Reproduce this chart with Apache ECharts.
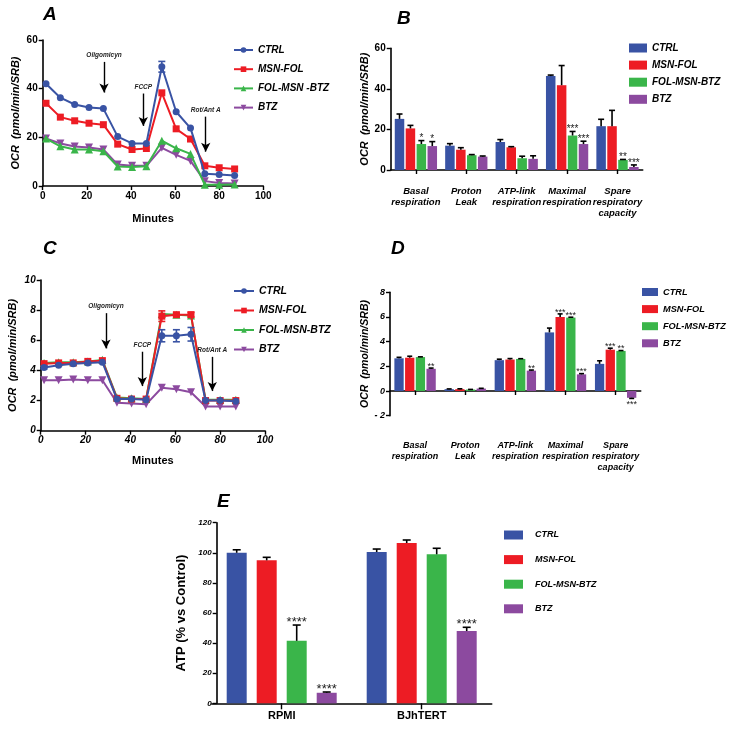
<!DOCTYPE html>
<html>
<head>
<meta charset="utf-8">
<script src="https://cdn.jsdelivr.net/npm/echarts@6/dist/echarts.min.js"></script>
<style>html,body{margin:0;padding:0;background:#fff;}#c{width:732px;height:732px;}</style>
</head>
<body>
<div id="c"></div>
<script>
// ---------- DATA ----------
const groups = ['CTRL', 'MSN-FOL', 'FOL-MSN-BTZ', 'BTZ'];
const groupsA = ['CTRL', 'MSN-FOL', 'FOL-MSN -BTZ', 'BTZ'];
const minutes = [1.5, 8, 14.5, 21, 27.5, 34, 40.5, 47, 54, 60.5, 67, 73.5, 80, 87];

// Panel A
const aCTRL = [42, 36.3, 33.5, 32.3, 31.8, 20.3, 17.5, 17.5, 49, 30.5, 23.8, 5, 4.7, 4.3];
const aMSN  = [34, 28.3, 26.8, 25.8, 25.2, 17.2, 15, 15.4, 38.3, 23.5, 19.3, 8.3, 7.5, 7.0];
const aFOL  = [19.5, 16.3, 15, 15, 14.3, 8, 7.8, 8.1, 18.6, 15.5, 13.2, 0.5, 0.5, 0.6];
const aBTZ  = [19.5, 17.5, 16.2, 15.8, 15, 8.8, 8.3, 8.3, 15.7, 12.8, 10.3, 2, 1.2, 1];
const aCTRLerr = [0, 0, 0, 0, 0, 0, 0, 0, 2.2, 0, 0, 0, 0, 0];
const aArrows = [
  {label: 'Oligomicyn', x: 27.8, from: 51, to: 38.4},
  {label: 'FCCP', x: 45.6, from: 38, to: 24.7},
  {label: 'Rot/Ant A', x: 73.9, from: 28.5, to: 14.1}
];

// Panel C
const cCTRL = [4.2, 4.35, 4.45, 4.5, 4.55, 2.1, 2.1, 2.05, 6.3, 6.3, 6.4, 2.0, 2.0, 1.95];
const cMSN  = [4.45, 4.5, 4.5, 4.6, 4.65, 2.15, 2.1, 2.1, 7.6, 7.7, 7.7, 2.0, 2.0, 2.0];
const cFOL  = [4.5, 4.55, 4.55, 4.6, 4.7, 2.2, 2.15, 2.1, 7.75, 7.7, 7.65, 2.05, 2.05, 2.05];
const cBTZ  = [3.35, 3.35, 3.4, 3.35, 3.35, 1.85, 1.8, 1.75, 2.85, 2.75, 2.55, 1.6, 1.6, 1.6];
const cCTRLerr = [0.1, 0, 0, 0, 0, 0, 0, 0, 0.4, 0.4, 0.45, 0, 0, 0];
const cMSNerr  = [0, 0, 0, 0, 0, 0, 0, 0, 0.35, 0.1, 0.15, 0, 0, 0];
const cArrows = [
  {label: 'Oligomicyn', x: 29.1, from: 7.8, to: 5.46},
  {label: 'FCCP', x: 45.3, from: 5.24, to: 2.96},
  {label: 'Rot/Ant A', x: 76.5, from: 4.9, to: 2.63}
];

// Panel B
const respCats = ['Basal\nrespiration', 'Proton\nLeak', 'ATP-link\nrespiration', 'Maximal\nrespiration', 'Spare\nrespiratory\ncapacity'];
const bCTRL = [25.2, 12, 13.8, 46.3, 21.6];
const bMSN  = [20.5, 10, 11.2, 41.8, 21.6];
const bFOL  = [12.8, 7.3, 5.8, 17, 5];
const bBTZ  = [11.8, 6.6, 5.5, 12.8, 1.5];
const bCTRLerr = [2.4, 1, 1.2, 0.5, 3.4];
const bMSNerr  = [1.5, 1, 0.3, 9.7, 7.8];
const bFOLerr  = [1.7, 0.3, 1, 2, 0.2];
const bBTZerr  = [2.2, 0.3, 1.5, 1.4, 1];
const bCTRLsig = ['', '', '', '', ''];
const bMSNsig  = ['', '', '', '', ''];
const bFOLsig  = ['*', '', '', '***', '**'];
const bBTZsig  = ['*', '', '', '***', '***'];

// Panel D
const dCTRL = [2.65, 0.15, 2.5, 4.75, 2.2];
const dMSN  = [2.7, 0.15, 2.55, 6.0, 3.35];
const dFOL  = [2.75, 0.12, 2.6, 5.95, 3.25];
const dBTZ  = [1.8, 0.2, 1.65, 1.35, -0.55];
const dCTRLerr = [0.08, 0.02, 0.08, 0.35, 0.25];
const dMSNerr  = [0.12, 0.03, 0.08, 0.25, 0.12];
const dFOLerr  = [0.02, 0.01, 0.02, 0.03, 0.03];
const dBTZerr  = [0.06, 0.02, 0.05, 0.06, 0.05];
const dCTRLsig = ['', '', '', '', ''];
const dMSNsig  = ['', '', '', '***', '***'];
const dFOLsig  = ['', '', '', '***', '**'];
const dBTZsig  = ['**', '', '**', '***', '***'];

// Panel E
const eCats = ['RPMI', 'BJhTERT'];
const eCTRL = [100, 100.5];
const eMSN  = [95, 106.5];
const eFOL  = [41.5, 99];
const eBTZ  = [7, 48];
const eCTRLerr = [2, 2];
const eMSNerr  = [2, 2];
const eFOLerr  = [10.5, 4];
const eBTZerr  = [0.5, 2.5];
const eCTRLsig = ['', ''];
const eMSNsig  = ['', ''];
const eFOLsig  = ['****', ''];
const eBTZsig  = ['****', '****'];

// ---------- STYLE ----------
const FONT = '"Liberation Sans", Arial, sans-serif';
const colors = ['#3953a4', '#ed1c24', '#3ab54a', '#8c4a9f'];
const symbols = ['circle', 'rect', 'triangle', 'triangle'];
const rotates = [0, 0, 0, 180];
const sfx = k => ' '.repeat(k);

const chart = echarts.init(document.getElementById('c'), null, {renderer: 'canvas'});

function axisCommon(fs, italic) {
  return {
    axisLine: {show: true, onZero: false, lineStyle: {color: '#000', width: 1.6}},
    axisTick: {show: true, length: 4, lineStyle: {color: '#000', width: 1.4}},
    splitLine: {show: false},
    axisLabel: {color: '#000', fontSize: fs, fontWeight: 'bold', fontStyle: italic ? 'italic' : 'normal', fontFamily: FONT, margin: 5}
  };
}

function lineSeries(gi, names, arrays, k) {
  return arrays.map((arr, i) => ({
    type: 'line', name: names[i] + sfx(k), xAxisIndex: gi, yAxisIndex: gi,
    data: minutes.map((m, j) => [m, arr[j]]),
    symbol: symbols[i], symbolSize: i >= 2 ? 8 : 7, symbolRotate: rotates[i],
    lineStyle: {width: 2, color: colors[i]}, itemStyle: {color: colors[i]},
    z: 5 - i
  }));
}

function lineErr(gi, arr, errs, ci) {
  return {
    type: 'custom', xAxisIndex: gi, yAxisIndex: gi, z: 6,
    data: minutes.map((m, j) => [m, arr[j], errs[j]]),
    renderItem: (p, api) => {
      const x = api.value(0), y = api.value(1), e = api.value(2);
      if (!e) return;
      const t = api.coord([x, y + e]), b = api.coord([x, y - e]);
      const st = {stroke: colors[ci], lineWidth: 1.6};
      return {type: 'group', children: [
        {type: 'line', shape: {x1: t[0], y1: t[1], x2: b[0], y2: b[1]}, style: st},
        {type: 'line', shape: {x1: t[0] - 3.5, y1: t[1], x2: t[0] + 3.5, y2: t[1]}, style: st},
        {type: 'line', shape: {x1: b[0] - 3.5, y1: b[1], x2: b[0] + 3.5, y2: b[1]}, style: st}
      ]};
    }
  };
}

function arrowMark(arrows) {
  return {
    silent: true, symbol: ['none', 'arrow'], symbolSize: [7, 9],
    lineStyle: {color: '#000', width: 1.4, type: 'solid'},
    label: {show: true, position: 'start', distance: 3, formatter: p => p.name, color: '#222', fontSize: 6.5, fontWeight: 'bold', fontStyle: 'italic', fontFamily: FONT},
    emphasis: {disabled: true},
    data: arrows.map(a => [{coord: [a.x, a.from], name: a.label}, {coord: [a.x, a.to]}])
  };
}

function barSeries(gi, names, arrays, k, bw, gap) {
  return arrays.map((arr, i) => ({
    type: 'bar', name: names[i] + sfx(k), xAxisIndex: gi, yAxisIndex: gi,
    data: arr, barWidth: bw, barGap: gap, itemStyle: {color: colors[i]}, z: 2
  }));
}

function barErr(gi, arr, errs, sigs, pos, bw, gapFrac, capW, sigFs) {
  return {
    type: 'custom', xAxisIndex: gi, yAxisIndex: gi, z: 4,
    data: arr.map((v, j) => [j, v, errs[j]]),
    renderItem: (p, api) => {
      const j = api.value(0), v = api.value(1), e = api.value(2);
      const c = api.coord([j, v]);
      const x = c[0] + (pos - 1.5) * bw * (1 + gapFrac);
      const end = api.coord([j, v >= 0 ? v + e : v - e]);
      const st = {stroke: '#000', lineWidth: 1.6};
      const ch = [];
      if (e > 0) {
        ch.push({type: 'line', shape: {x1: x, y1: c[1], x2: x, y2: end[1]}, style: st});
        ch.push({type: 'line', shape: {x1: x - capW / 2, y1: end[1], x2: x + capW / 2, y2: end[1]}, style: st});
      }
      const s = sigs[p.dataIndex];
      if (s) {
        ch.push({type: 'text', style: {
          text: s, x: x, y: v >= 0 ? end[1] + 0.3 * sigFs : end[1] + 2,
          align: 'center', verticalAlign: v >= 0 ? 'bottom' : 'top',
          fontSize: sigFs, fontFamily: FONT, fill: '#222'
        }});
      }
      return {type: 'group', children: ch};
    }
  };
}

const titleStyle = {fontSize: 19, fontStyle: 'italic', fontWeight: 'bold', fontFamily: FONT, color: '#000'};
const legTxt = (fs) => ({fontSize: fs, fontWeight: 'bold', fontStyle: 'italic', fontFamily: FONT, color: '#000', lineHeight: 12});

const series = [];
// A
const aLines = lineSeries(0, groupsA, [aCTRL, aMSN, aFOL, aBTZ], 0);
aLines[0].markLine = arrowMark(aArrows);
series.push(...aLines, lineErr(0, aCTRL, aCTRLerr, 0));
// C
const cLines = lineSeries(2, groups, [cCTRL, cMSN, cFOL, cBTZ], 2);
cLines[0].markLine = arrowMark(cArrows);
series.push(...cLines, lineErr(2, cCTRL, cCTRLerr, 0), lineErr(2, cMSN, cMSNerr, 1));
// B
series.push(...barSeries(1, groups, [bCTRL, bMSN, bFOL, bBTZ], 1, 9.5, '15%'));
[[bCTRL, bCTRLerr, bCTRLsig], [bMSN, bMSNerr, bMSNsig], [bFOL, bFOLerr, bFOLsig], [bBTZ, bBTZerr, bBTZsig]]
  .forEach((d, i) => series.push(barErr(1, d[0], d[1], d[2], i, 9.5, 0.15, 6, 10)));
// D
series.push(...barSeries(3, groups, [dCTRL, dMSN, dFOL, dBTZ], 3, 9.3, '15%'));
[[dCTRL, dCTRLerr, dCTRLsig], [dMSN, dMSNerr, dMSNsig], [dFOL, dFOLerr, dFOLsig], [dBTZ, dBTZerr, dBTZsig]]
  .forEach((d, i) => series.push(barErr(3, d[0], d[1], d[2], i, 9.3, 0.15, 5, 9)));
// E
series.push(...barSeries(4, groups, [eCTRL, eMSN, eFOL, eBTZ], 4, 20, '50%'));
[[eCTRL, eCTRLerr, eCTRLsig], [eMSN, eMSNerr, eMSNsig], [eFOL, eFOLerr, eFOLsig], [eBTZ, eBTZerr, eBTZsig]]
  .forEach((d, i) => series.push(barErr(4, d[0], d[1], d[2], i, 20, 0.5, 8, 13)));

const yName = (txt, gap, fs, italic) => ({
  name: txt, nameLocation: 'middle', nameRotate: 90, nameGap: gap,
  nameTextStyle: {fontSize: fs, fontWeight: 'bold', fontStyle: italic ? 'italic' : 'normal', fontFamily: FONT, color: '#000'}
});

const option = {
  animation: false,
  backgroundColor: '#fff',
  title: [
    {text: 'A', left: 43, top: 5, padding: 0, textStyle: titleStyle},
    {text: 'B', left: 397, top: 9, padding: 0, textStyle: titleStyle},
    {text: 'C', left: 43, top: 239, padding: 0, textStyle: titleStyle},
    {text: 'D', left: 391, top: 239, padding: 0, textStyle: titleStyle},
    {text: 'E', left: 217, top: 492, padding: 0, textStyle: titleStyle}
  ],
  legend: [
    {orient: 'vertical', left: 233, top: 44, padding: 0, itemGap: 7.2, itemWidth: 19, itemHeight: 7,
     data: groupsA.map(n => n + sfx(0)), formatter: n => n.trim(), textStyle: legTxt(10), selectedMode: false},
    {orient: 'vertical', left: 629, top: 42, padding: 0, itemGap: 5.1, itemWidth: 18, itemHeight: 9, icon: 'rect',
     data: groups.map(n => n + sfx(1)), formatter: n => n.trim(), textStyle: legTxt(10), selectedMode: false},
    {orient: 'vertical', left: 233, top: 285, padding: 0, itemGap: 7.5, itemWidth: 20, itemHeight: 7,
     data: groups.map(n => n + sfx(2)), formatter: n => n.trim(), textStyle: legTxt(10.5), selectedMode: false},
    {orient: 'vertical', left: 642, top: 286, padding: 0, itemGap: 5.1, itemWidth: 16, itemHeight: 8, icon: 'rect',
     data: groups.map(n => n + sfx(3)), formatter: n => n.trim(), textStyle: legTxt(9.2), selectedMode: false},
    {orient: 'vertical', left: 504, top: 529, padding: 0, itemGap: 12.6, itemWidth: 19, itemHeight: 9, icon: 'rect',
     data: groups.map(n => n + sfx(4)), formatter: n => n.trim(),
     textStyle: Object.assign(legTxt(9), {padding: [0, 0, 0, 7]}), selectedMode: false}
  ],
  grid: [
    {left: 42.7, top: 40, width: 220.6, height: 146, outerBoundsMode: 'none'},
    {left: 390.7, top: 48.3, width: 252, height: 121.7, outerBoundsMode: 'none'},
    {left: 40.7, top: 280, width: 224.3, height: 150.7, outerBoundsMode: 'none'},
    {left: 390, top: 292.3, width: 250.7, height: 123.4, outerBoundsMode: 'none'},
    {left: 211.7, top: 522.7, width: 280, height: 180.6, outerBoundsMode: 'none'}
  ],
  xAxis: [
    Object.assign(axisCommon(10, false), {gridIndex: 0, type: 'value', min: 0, max: 100, interval: 20,
      name: 'Minutes', nameLocation: 'middle', nameGap: 27,
      nameTextStyle: {fontSize: 11, fontWeight: 'bold', fontFamily: FONT, color: '#000'}}),
    (() => { const a = axisCommon(9.5, true); a.axisTick.alignWithLabel = true;
      a.axisLabel.margin = 16; a.axisLabel.lineHeight = 11; a.axisLabel.interval = 0; a.axisLabel.hideOverlap = false;
      return Object.assign(a, {gridIndex: 1, type: 'category', data: respCats}); })(),
    Object.assign(axisCommon(10, true), {gridIndex: 2, type: 'value', min: 0, max: 100, interval: 20,
      name: 'Minutes', nameLocation: 'middle', nameGap: 25,
      nameTextStyle: {fontSize: 11, fontWeight: 'bold', fontFamily: FONT, color: '#000'}}),
    (() => { const a = axisCommon(9, true); a.axisTick.alignWithLabel = true; a.axisLine.onZero = true;
      a.axisLabel.margin = 24; a.axisLabel.lineHeight = 11; a.axisLabel.interval = 0; a.axisLabel.hideOverlap = false;
      return Object.assign(a, {gridIndex: 3, type: 'category', data: respCats}); })(),
    (() => { const a = axisCommon(11, false); a.axisTick.alignWithLabel = true; a.axisTick.length = 6;
      a.axisLabel.margin = 7; a.axisLabel.interval = 0;
      return Object.assign(a, {gridIndex: 4, type: 'category', data: eCats}); })()
  ],
  yAxis: [
    Object.assign(axisCommon(10, false), {gridIndex: 0, type: 'value', min: 0, max: 60, interval: 20},
      yName('OCR  (pmol/min/SRB)', 21, 11, true)),
    Object.assign(axisCommon(10, false), {gridIndex: 1, type: 'value', min: 0, max: 60, interval: 20},
      yName('OCR  (pmol/min/SRB)', 20, 11, true)),
    Object.assign(axisCommon(10, true), {gridIndex: 2, type: 'value', min: 0, max: 10, interval: 2},
      yName('OCR  (pmol/min/SRB)', 22, 11, true)),
    (() => { const a = axisCommon(9, true); a.axisLabel.formatter = v => v < 0 ? '- ' + Math.abs(v) : String(v);
      return Object.assign(a, {gridIndex: 3, type: 'value', min: -2, max: 8, interval: 2},
        yName('OCR  (pmol/min/SRB)', 19, 10.5, true)); })(),
    Object.assign(axisCommon(8, true), {gridIndex: 4, type: 'value', min: 0, max: 120, interval: 20, offset: -5},
      yName('ATP (% vs Control)', 29, 13, false))
  ],
  series: series
};
chart.setOption(option);
</script>
</body>
</html>
